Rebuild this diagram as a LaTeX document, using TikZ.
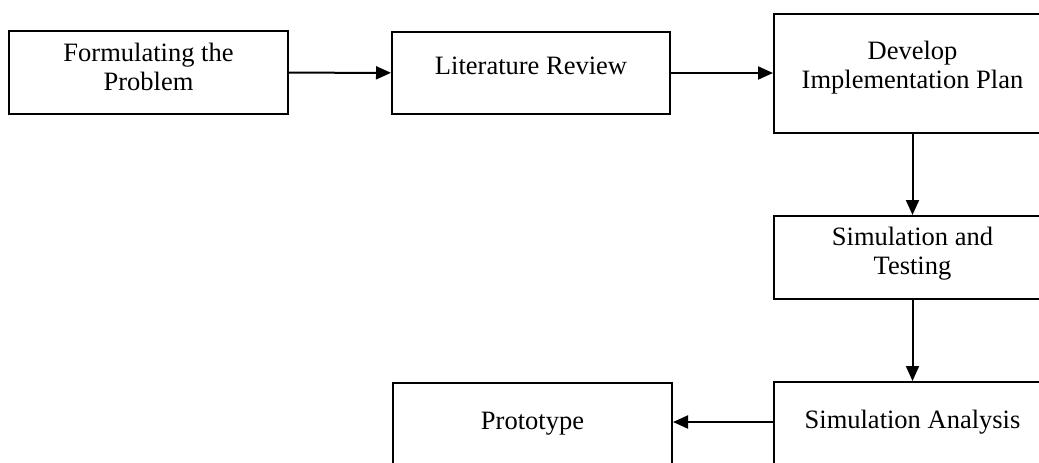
\documentclass[tikz,border=0pt]{standalone}
\usepackage{fontspec}
\setmainfont{Liberation Serif}
\usepackage{tikz}
\usetikzlibrary{arrows.meta, positioning}

\tikzset{
  stepbox/.style={draw, line width=1pt, align=center, inner xsep=0pt, inner ysep=0pt,
    anchor=north, font=\fontsize{13.25}{14.5}\selectfont},
  flow/.style={line width=1pt, -{Triangle[length=7.5pt, width=6.5pt]}}
}

\begin{document}
\begin{tikzpicture}[x=0.5pt, y=-0.5pt]
    \useasboundingbox (0,0) rectangle (1039,462);

    % Top row
    \node[stepbox, minimum width=139.5pt, text height=29.5pt, text depth=12pt] (prob) at (148.5,30) {Formulating the\\Problem};
    \node[stepbox, minimum width=139pt, text height=21pt, text depth=20pt] (lit) at (531,31) {Literature Review};
    \node[stepbox, minimum width=138.5pt, text height=37pt, text depth=22.5pt] (dev) at (912.5,13) {Develop\\Implementation Plan};

    % Right column
    \node[stepbox, minimum width=138.5pt, text height=29pt, text depth=12.5pt] (sim) at (912.5,215) {Simulation and\\Testing};
    \node[stepbox, minimum width=138.5pt, text height=23pt, text depth=37pt] (anal) at (912.5,381) {Simulation Analysis};

    % Bottom row
    \node[stepbox, minimum width=139.5pt, text height=23pt, text depth=37pt] (proto) at (532.5,382) {Prototype};

    % Arrows
    \draw[flow] (prob) -- (lit);
    \draw[flow] (lit.east) -- (lit.east -| dev.west);
    \draw[flow] (dev) -- (sim);
    \draw[flow] (sim) -- (anal);
    \draw[flow] (anal.west |- 0,422) -- (proto.east |- 0,422);
\end{tikzpicture}
\end{document}
